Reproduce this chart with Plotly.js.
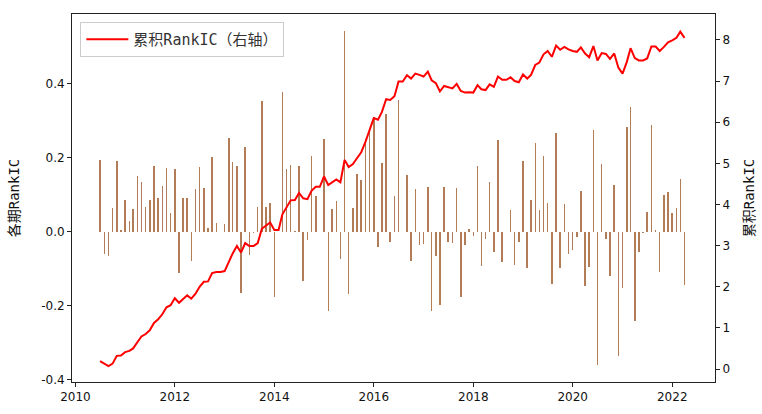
<!DOCTYPE html>
<html>
<head>
<meta charset="utf-8">
<script src="https://cdn.plot.ly/plotly-3.0.1.min.js"></script>
<style>html,body{margin:0;padding:0;background:#fff;}#chart{width:762px;height:414px;}</style>
</head>
<body>
<div id="chart"></div>
<script>
const months = [
"2010-07","2010-08","2010-09","2010-10","2010-11","2010-12",
"2011-01","2011-02","2011-03","2011-04","2011-05","2011-06","2011-07","2011-08","2011-09","2011-10","2011-11","2011-12",
"2012-01","2012-02","2012-03","2012-04","2012-05","2012-06","2012-07","2012-08","2012-09","2012-10","2012-11","2012-12",
"2013-01","2013-02","2013-03","2013-04","2013-05","2013-06","2013-07","2013-08","2013-09","2013-10","2013-11","2013-12",
"2014-01","2014-02","2014-03","2014-04","2014-05","2014-06","2014-07","2014-08","2014-09","2014-10","2014-11","2014-12",
"2015-01","2015-02","2015-03","2015-04","2015-05","2015-06","2015-07","2015-08","2015-09","2015-10","2015-11","2015-12",
"2016-01","2016-02","2016-03","2016-04","2016-05","2016-06","2016-07","2016-08","2016-09","2016-10","2016-11","2016-12",
"2017-01","2017-02","2017-03","2017-04","2017-05","2017-06","2017-07","2017-08","2017-09","2017-10","2017-11","2017-12",
"2018-01","2018-02","2018-03","2018-04","2018-05","2018-06","2018-07","2018-08","2018-09","2018-10","2018-11","2018-12",
"2019-01","2019-02","2019-03","2019-04","2019-05","2019-06","2019-07","2019-08","2019-09","2019-10","2019-11","2019-12",
"2020-01","2020-02","2020-03","2020-04","2020-05","2020-06","2020-07","2020-08","2020-09","2020-10","2020-11","2020-12",
"2021-01","2021-02","2021-03","2021-04","2021-05","2021-06","2021-07","2021-08","2021-09","2021-10","2021-11","2021-12",
"2022-01","2022-02","2022-03","2022-04"
];

const rankIC = [
0.193,-0.060,-0.065,0.064,0.190,0.004,0.085,0.028,0.062,0.151,
0.134,0.067,0.086,0.177,0.091,0.123,0.173,0.050,0.168,-0.112,
0.091,0.092,-0.080,0.114,0.175,0.118,0.010,0.203,0.023,0.000,
0.020,0.252,0.187,0.178,-0.166,0.230,-0.062,-0.004,0.068,0.354,
0.068,0.077,-0.177,0.000,0.377,0.168,0.179,0.003,0.177,-0.132,
-0.023,0.204,0.097,0.000,0.250,-0.215,0.062,0.082,-0.074,0.543,
-0.168,0.065,0.156,0.139,0.250,0.270,0.310,-0.040,0.186,0.318,
-0.028,0.097,0.357,0.000,0.154,-0.080,0.116,-0.035,-0.033,0.121,
-0.215,-0.065,-0.199,0.121,-0.027,-0.031,0.117,-0.177,-0.036,0.008,
-0.012,0.178,-0.093,-0.019,0.134,-0.055,0.248,-0.082,0.000,0.059,
-0.090,-0.027,0.192,-0.098,0.086,0.240,0.059,0.204,0.077,-0.141,
0.266,-0.098,0.076,-0.059,-0.049,-0.013,0.109,-0.148,-0.095,0.276,
-0.359,0.183,-0.020,-0.120,0.127,-0.337,-0.151,0.284,0.336,-0.241,
-0.056,-0.004,0.053,0.289,0.004,-0.110,0.100,0.106,0.050,0.064,
0.143,-0.145
];

const cumRankIC = [
0.19,0.13,0.07,0.13,0.32,0.33,0.41,0.44,0.50,0.65,
0.79,0.85,0.94,1.12,1.21,1.33,1.50,1.55,1.72,1.61,
1.70,1.79,1.71,1.83,2.00,2.12,2.13,2.33,2.36,2.36,
2.38,2.63,2.81,2.99,2.83,3.06,2.99,2.99,3.06,3.41,
3.48,3.56,3.38,3.38,3.76,3.93,4.10,4.11,4.28,4.15,
4.13,4.33,4.43,4.43,4.68,4.47,4.53,4.61,4.54,5.08,
4.91,4.98,5.13,5.27,5.52,5.79,6.10,6.06,6.25,6.56,
6.54,6.63,6.99,6.99,7.14,7.06,7.18,7.15,7.11,7.23,
7.02,6.95,6.75,6.88,6.85,6.82,6.93,6.76,6.72,6.73,
6.72,6.90,6.80,6.78,6.92,6.86,7.11,7.03,7.03,7.09,
7.00,6.97,7.16,7.06,7.15,7.39,7.45,7.65,7.73,7.59,
7.86,7.76,7.83,7.77,7.73,7.71,7.82,7.67,7.58,7.85,
7.50,7.68,7.66,7.54,7.67,7.33,7.18,7.46,7.80,7.56,
7.50,7.50,7.55,7.84,7.84,7.73,7.83,7.94,7.99,8.05,
8.20,8.05
];

const leftTickVals = [-0.4, -0.2, 0.0, 0.2, 0.4];
const leftTickText = ["-0.4", "-0.2", "0.0", "0.2", "0.4"];
const rightTickVals = [0, 1, 2, 3, 4, 5, 6, 7, 8];
const lineName = "累积RankIC（右轴）";
const leftTitle = "各期RankIC";
const rightTitle = "累积RankIC";

const cjk = '"DejaVu Sans Mono", "Noto Sans CJK SC", sans-serif';
const tickFont = {family: '"DejaVu Sans", sans-serif', size: 12, color: '#111'};

const traces = [
  {
    type: 'bar',
    x: months,
    y: rankIC,
    yaxis: 'y',
    width: 11 * 86400000,
    marker: {color: 'rgb(178,124,86)', line: {width: 0}},
    showlegend: false,
    hoverinfo: 'x+y'
  },
  {
    type: 'scatter',
    mode: 'lines',
    x: months,
    y: cumRankIC,
    yaxis: 'y2',
    name: lineName,
    line: {color: '#ff0000', width: 2}
  }
];

const layout = {
  width: 762,
  height: 414,
  margin: {l: 72, r: 47, t: 14, b: 32},
  paper_bgcolor: '#fff',
  plot_bgcolor: '#fff',
  bargap: 0,
  showlegend: true,
  legend: {
    x: 0.013, y: 0.978, xanchor: 'left', yanchor: 'top',
    bgcolor: 'rgba(255,255,255,0.8)',
    bordercolor: '#cccccc', borderwidth: 1,
    itemwidth: 42,
    font: {family: cjk, size: 15, color: '#333'}
  },
  xaxis: {
    type: 'date',
    range: ['2009-12-07', '2022-11-11'],
    tick0: '2010-01-01',
    dtick: 'M24',
    tickformat: '%Y',
    ticks: 'outside', ticklen: 4, tickcolor: '#222',
    showline: true, linecolor: '#222', linewidth: 1, mirror: true,
    showgrid: false, zeroline: false,
    tickfont: tickFont
  },
  yaxis: {
    range: [-0.406, 0.588],
    tickvals: leftTickVals,
    ticktext: leftTickText,
    ticks: 'outside', ticklen: 4, tickcolor: '#222',
    showline: true, linecolor: '#222', linewidth: 1, mirror: true,
    showgrid: false, zeroline: false,
    tickfont: tickFont,
    title: {text: leftTitle, font: {family: cjk, size: 14, color: '#111'}, standoff: 18}
  },
  yaxis2: {
    overlaying: 'y',
    side: 'right',
    range: [-0.316, 8.63],
    tickvals: rightTickVals,
    ticks: 'outside', ticklen: 4, tickcolor: '#222',
    showline: true, linecolor: '#222', linewidth: 1,
    showgrid: false, zeroline: false,
    tickfont: tickFont,
    title: {text: rightTitle, font: {family: cjk, size: 14, color: '#111'}, standoff: 15}
  }
};

Plotly.newPlot('chart', traces, layout, {displayModeBar: false, staticPlot: true});
</script>
</body>
</html>
